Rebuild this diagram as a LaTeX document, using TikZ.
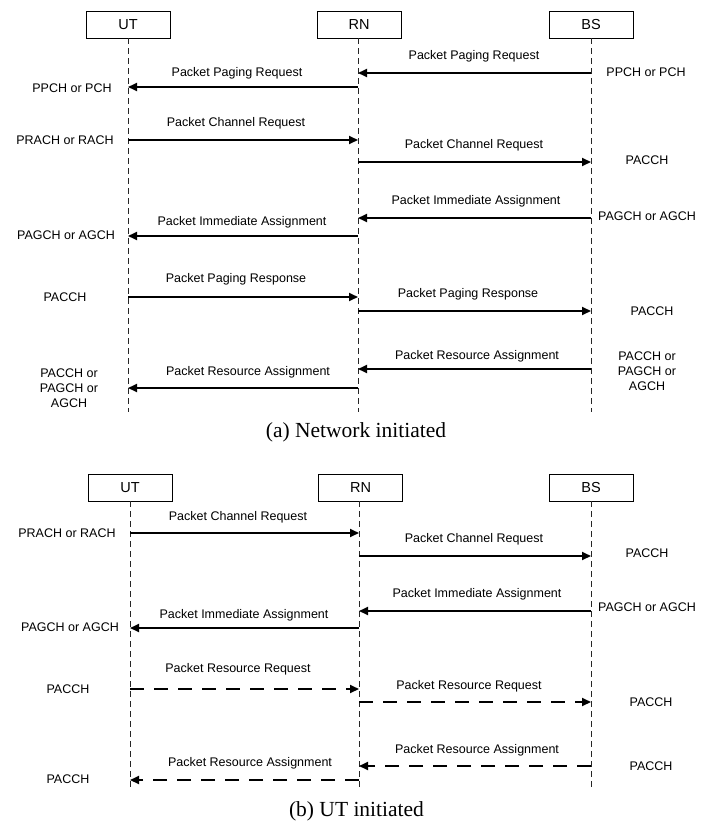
\documentclass[tikz,border=0pt]{standalone}
\usepackage{fontspec}
\setmainfont{Liberation Serif}
\setsansfont{Liberation Sans}
\usetikzlibrary{arrows.meta}
\begin{document}
\begin{tikzpicture}[x=1pt,y=-1pt,
  actor/.style={draw, line width=0.8pt, minimum width=84pt, minimum height=27pt, inner sep=0pt, font=\sffamily\fontsize{14.5}{16}\selectfont},
  life/.style={line width=0.8pt, black!85, dash pattern=on 6pt off 4pt},
  msg/.style={line width=1.9pt, -{Triangle[length=9pt,width=8pt]}},
  dmsg/.style={msg, dash pattern=on 14pt off 10pt},
  lbl/.style={font=\sffamily\fontsize{12.5}{15}\selectfont, inner sep=0pt, align=center},
  capt/.style={font=\fontsize{21.5}{24}\selectfont, inner sep=0pt}]
\useasboundingbox (0,0) rectangle (723,824);

% ---------------- (a) Network initiated ----------------
\node[actor] (utA) at (128,24.5) {UT};
\node[actor] (rnA) at (359,24.5) {RN};
\node[actor] (bsA) at (591,24.5) {BS};
\coordinate (utAend) at (128,412);
\coordinate (rnAend) at (358,412);
\coordinate (bsAend) at (591,412);
\draw[life] (utA.south) -- (utAend);
\draw[life] (rnA.south -| rnAend) -- (rnAend);
\draw[life] (bsA.south) -- (bsAend);

\coordinate (a1s) at (591,73);  \coordinate (a1e) at (358,73);
\coordinate (a2s) at (358,87);  \coordinate (a2e) at (128,87);
\coordinate (a3s) at (128,140); \coordinate (a3e) at (358,140);
\coordinate (a4s) at (358,162); \coordinate (a4e) at (591,162);
\coordinate (a5s) at (591,218); \coordinate (a5e) at (358,218);
\coordinate (a6s) at (358,236); \coordinate (a6e) at (128,236);
\coordinate (a7s) at (128,297); \coordinate (a7e) at (358,297);
\coordinate (a8s) at (358,311); \coordinate (a8e) at (591,311);
\coordinate (a9s) at (591,369); \coordinate (a9e) at (358,369);
\coordinate (a10s) at (358,388); \coordinate (a10e) at (128,388);

\draw[msg] (a1s) -- (a1e);
\draw[msg] (a2s) -- (a2e);
\draw[msg] (a3s) -- (a3e);
\draw[msg] (a4s) -- (a4e);
\draw[msg] (a5s) -- (a5e);
\draw[msg] (a6s) -- (a6e);
\draw[msg] (a7s) -- (a7e);
\draw[msg] (a8s) -- (a8e);
\draw[msg] (a9s) -- (a9e);
\draw[msg] (a10s) -- (a10e);

\node[lbl] (la1) at (474,56) {Packet Paging Request};
\node[lbl] (la2) at (237,73) {Packet Paging Request};
\node[lbl] (la3) at (236,123) {Packet Channel Request};
\node[lbl] (la4) at (474,145) {Packet Channel Request};
\node[lbl] (la5) at (476,201) {Packet Immediate Assignment};
\node[lbl] (la6) at (242,222) {Packet Immediate Assignment};
\node[lbl] (la7) at (236,279) {Packet Paging Response};
\node[lbl] (la8) at (468,294) {Packet Paging Response};
\node[lbl] (la9) at (477,356) {Packet Resource Assignment};
\node[lbl] (la10) at (248,372) {Packet Resource Assignment};

\node[lbl] (ca1) at (646,72) {PPCH or PCH};
\node[lbl] (ca2) at (72,88) {PPCH or PCH};
\node[lbl] (ca3) at (65,140) {PRACH or RACH};
\node[lbl] (ca4) at (647,160) {PACCH};
\node[lbl] (ca5) at (647,216) {PAGCH or AGCH};
\node[lbl] (ca6) at (66,235) {PAGCH or AGCH};
\node[lbl] (ca7) at (65,297) {PACCH};
\node[lbl] (ca8) at (652,311) {PACCH};
\node[lbl] (ca9) at (647,371) {PACCH or\\PAGCH or\\AGCH};
\node[lbl] (ca10) at (69,388) {PACCH or\\PAGCH or\\AGCH};

\node[capt] (capA) at (356,432) {(a) Network initiated};

% ---------------- (b) UT initiated ----------------
\node[actor] (utB) at (130,487.5) {UT};
\node[actor] (rnB) at (360.5,487.5) {RN};
\node[actor] (bsB) at (591,487.5) {BS};
\coordinate (utBend) at (130,790);
\coordinate (rnBend) at (359,790);
\coordinate (bsBend) at (591,790);
\draw[life] (utB.south) -- (utBend);
\draw[life] (rnB.south -| rnBend) -- (rnBend);
\draw[life] (bsB.south) -- (bsBend);

\coordinate (b1s) at (130,533); \coordinate (b1e) at (359,533);
\coordinate (b2s) at (359,556); \coordinate (b2e) at (591,556);
\coordinate (b3s) at (591,611); \coordinate (b3e) at (359,611);
\coordinate (b4s) at (359,628); \coordinate (b4e) at (130,628);
\coordinate (b5s) at (130,689); \coordinate (b5e) at (359,689);
\coordinate (b6s) at (359,702); \coordinate (b6e) at (591,702);
\coordinate (b7s) at (591,766); \coordinate (b7e) at (359,766);
\coordinate (b8s) at (359,780); \coordinate (b8e) at (130,780);

\draw[msg] (b1s) -- (b1e);
\draw[msg] (b2s) -- (b2e);
\draw[msg] (b3s) -- (b3e);
\draw[msg] (b4s) -- (b4e);
\draw[dmsg] (b5s) -- (b5e);
\draw[dmsg] (b6s) -- (b6e);
\draw[dmsg] (b7s) -- (b7e);
\draw[dmsg] (b8s) -- (b8e);

\node[lbl] (lb1) at (238,517) {Packet Channel Request};
\node[lbl] (lb2) at (474,539) {Packet Channel Request};
\node[lbl] (lb3) at (477,594) {Packet Immediate Assignment};
\node[lbl] (lb4) at (244,615) {Packet Immediate Assignment};
\node[lbl] (lb5) at (238,669) {Packet Resource Request};
\node[lbl] (lb6) at (469,686) {Packet Resource Request};
\node[lbl] (lb7) at (477,750) {Packet Resource Assignment};
\node[lbl] (lb8) at (250,763) {Packet Resource Assignment};

\node[lbl] (cb1) at (67,533) {PRACH or RACH};
\node[lbl] (cb2) at (647,553) {PACCH};
\node[lbl] (cb3) at (647,607) {PAGCH or AGCH};
\node[lbl] (cb4) at (70,627) {PAGCH or AGCH};
\node[lbl] (cb5) at (68,689) {PACCH};
\node[lbl] (cb6) at (651,702) {PACCH};
\node[lbl] (cb7) at (651,766) {PACCH};
\node[lbl] (cb8) at (68,779) {PACCH};

\node[capt] (capB) at (356.5,811) {(b) UT initiated};
\end{tikzpicture}
\end{document}
